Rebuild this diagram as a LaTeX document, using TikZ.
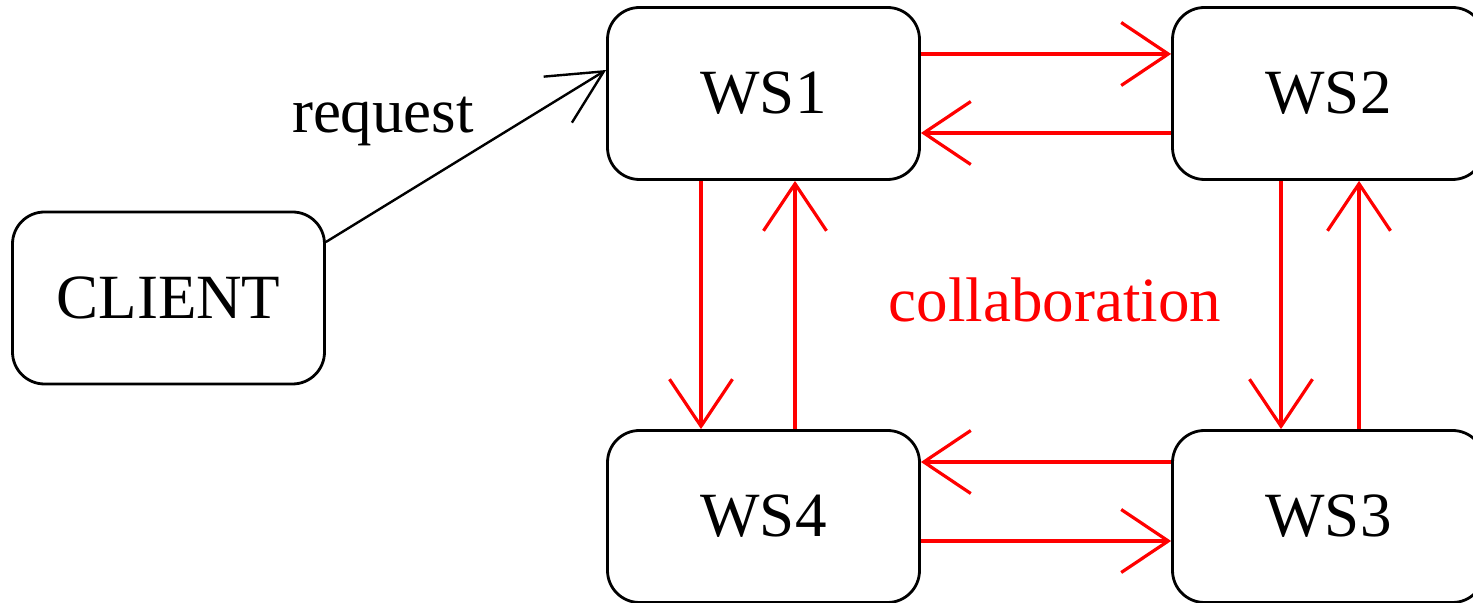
\documentclass[tikz,border=0pt]{standalone}
\usepackage{fontspec}
\setmainfont{Liberation Serif}
\usetikzlibrary{arrows.meta}
\begin{document}
\begin{tikzpicture}[x=0.5pt, y=-0.5pt,
  server/.style={draw, line width=1.4pt, rounded corners=16pt,
    minimum width=156pt, minimum height=86pt, inner sep=0pt,
    font=\fontsize{31.5}{36}\selectfont},
  collab/.style={draw=red, line width=1.6pt,
    -{Straight Barb[length=23.5pt, width=31.5pt]}},
  callarrow/.style={line width=1.2pt,
    -{Straight Barb[length=27pt, width=27pt]}},
  label/.style={font=\fontsize{31.5}{36}\selectfont, inner sep=0pt, anchor=base}]
  \clip (0,0) rectangle (1473,603);
  \useasboundingbox (0,0) rectangle (1473,603);

  % servers and client
  \node[server] (client) at (168.5,298) {CLIENT};
  \node[server] (ws1) at (763.5,93.5) {WS1};
  \node[server] (ws2) at (1328.5,93.5) {WS2};
  \node[server] (ws4) at (763.5,516.5) {WS4};
  \node[server] (ws3) at (1328.5,516.5) {WS3};

  % client request
  \draw[callarrow] (client.east |- 0,242) -- (ws1.west |- 0,70);
  \node[label] (req) at (383,133) {request};

  % collaboration links, top row
  \draw[collab] (ws1.east |- 0,54) -- (ws2.west |- 0,54);
  \draw[collab] (ws2.west |- 0,133) -- (ws1.east |- 0,133);
  % bottom row
  \draw[collab] (ws3.west |- 0,462) -- (ws4.east |- 0,462);
  \draw[collab] (ws4.east |- 0,541) -- (ws3.west |- 0,541);
  % left column
  \draw[collab] (ws1.south -| 701,0) -- (ws4.north -| 701,0);
  \draw[collab] (ws4.north -| 795,0) -- (ws1.south -| 795,0);
  % right column
  \draw[collab] (ws2.south -| 1281,0) -- (ws3.north -| 1281,0);
  \draw[collab] (ws3.north -| 1359,0) -- (ws2.south -| 1359,0);

  \node[label, text=red] (collablabel) at (1055,322) {collaboration};
\end{tikzpicture}
\end{document}
